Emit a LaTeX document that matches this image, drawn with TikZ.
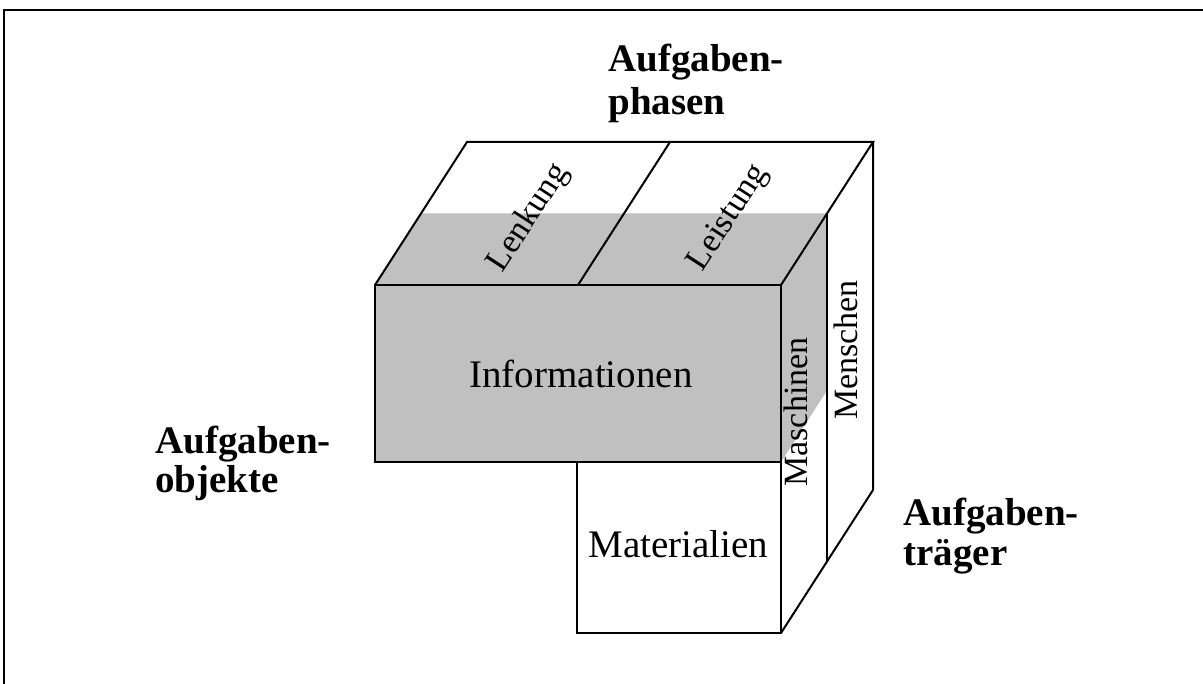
\documentclass[tikz,border=0pt]{standalone}
\usepackage{fontspec}
\setmainfont{Liberation Serif}
\definecolor{cubegrey}{RGB}{192,192,192}
\begin{document}
\begin{tikzpicture}[x=0.5pt,y=-0.5pt,
  edge/.style={line width=1pt,line join=miter},
  dimlabel/.style={align=left,anchor=base west,inner sep=0pt},
  facelabel/.style={font=\fontsize{17}{19}\selectfont,inner sep=0pt},
  bigface/.style={font=\fontsize{19.5}{22}\selectfont,inner sep=0pt,anchor=base}]
\useasboundingbox (0,0) rectangle (1203,684);
% frame
\draw[line width=1pt] (4,684) -- (4,10) -- (1203,10);
% corners
\coordinate (F1) at (375,285);
\coordinate (F2) at (781,285);
\coordinate (F3) at (781,462);
\coordinate (F4) at (375,462);
\coordinate (M1) at (577,462);
\coordinate (M2) at (577,633);
\coordinate (M3) at (781,633);
\coordinate (T1) at (467,142);
\coordinate (T2) at (873,142);
\coordinate (B2) at (873,490);
\coordinate (D1) at (578,285);
\coordinate (D2) at (670,142);
\coordinate (S1) at (827,213.5);
\coordinate (S2) at (827,561.5);
% grey slab
\fill[cubegrey] (F1) -- (421,213.5) -- (S1) -- (827,390.5) -- (F3) -- (F4) -- cycle;
% edges
\draw[edge] (F1) -- (F2) -- (F3) -- (F4) -- cycle;
\draw[edge] (M1) -- (M2) -- (M3) -- (F3);
\draw[edge] (F1) -- (T1) -- (T2) -- (F2);
\draw[edge] (D1) -- (D2);
\draw[edge] (T2) -- (B2) -- (M3);
\draw[edge] (S1) -- (S2);
% face labels
\node[bigface] (info) at (581,387) {Informationen};
\node[bigface] (mat) at (678.5,557) {Materialien};
\node[facelabel,rotate=57] (lenk) at (529,218) {Lenkung};
\node[facelabel,rotate=57] (leist) at (729,218) {Leistung};
\node[facelabel,rotate=90] (masch) at (796,412) {Maschinen};
\node[facelabel,rotate=90] (mensch) at (846,350) {Menschen};
% dimension labels (anchor = baseline of the last line)
\node[dimlabel,font=\bfseries\fontsize{19.5}{21.5}\selectfont] (phasen) at (608,115) {Aufgaben-\\phasen};
\node[dimlabel,font=\bfseries\fontsize{19.5}{19.5}\selectfont] (objekte) at (155,492) {Aufgaben-\\objekte};
\node[dimlabel,font=\bfseries\fontsize{19.5}{20}\selectfont] (traeger) at (903,565) {Aufgaben-\\träger};
\end{tikzpicture}
\end{document}
